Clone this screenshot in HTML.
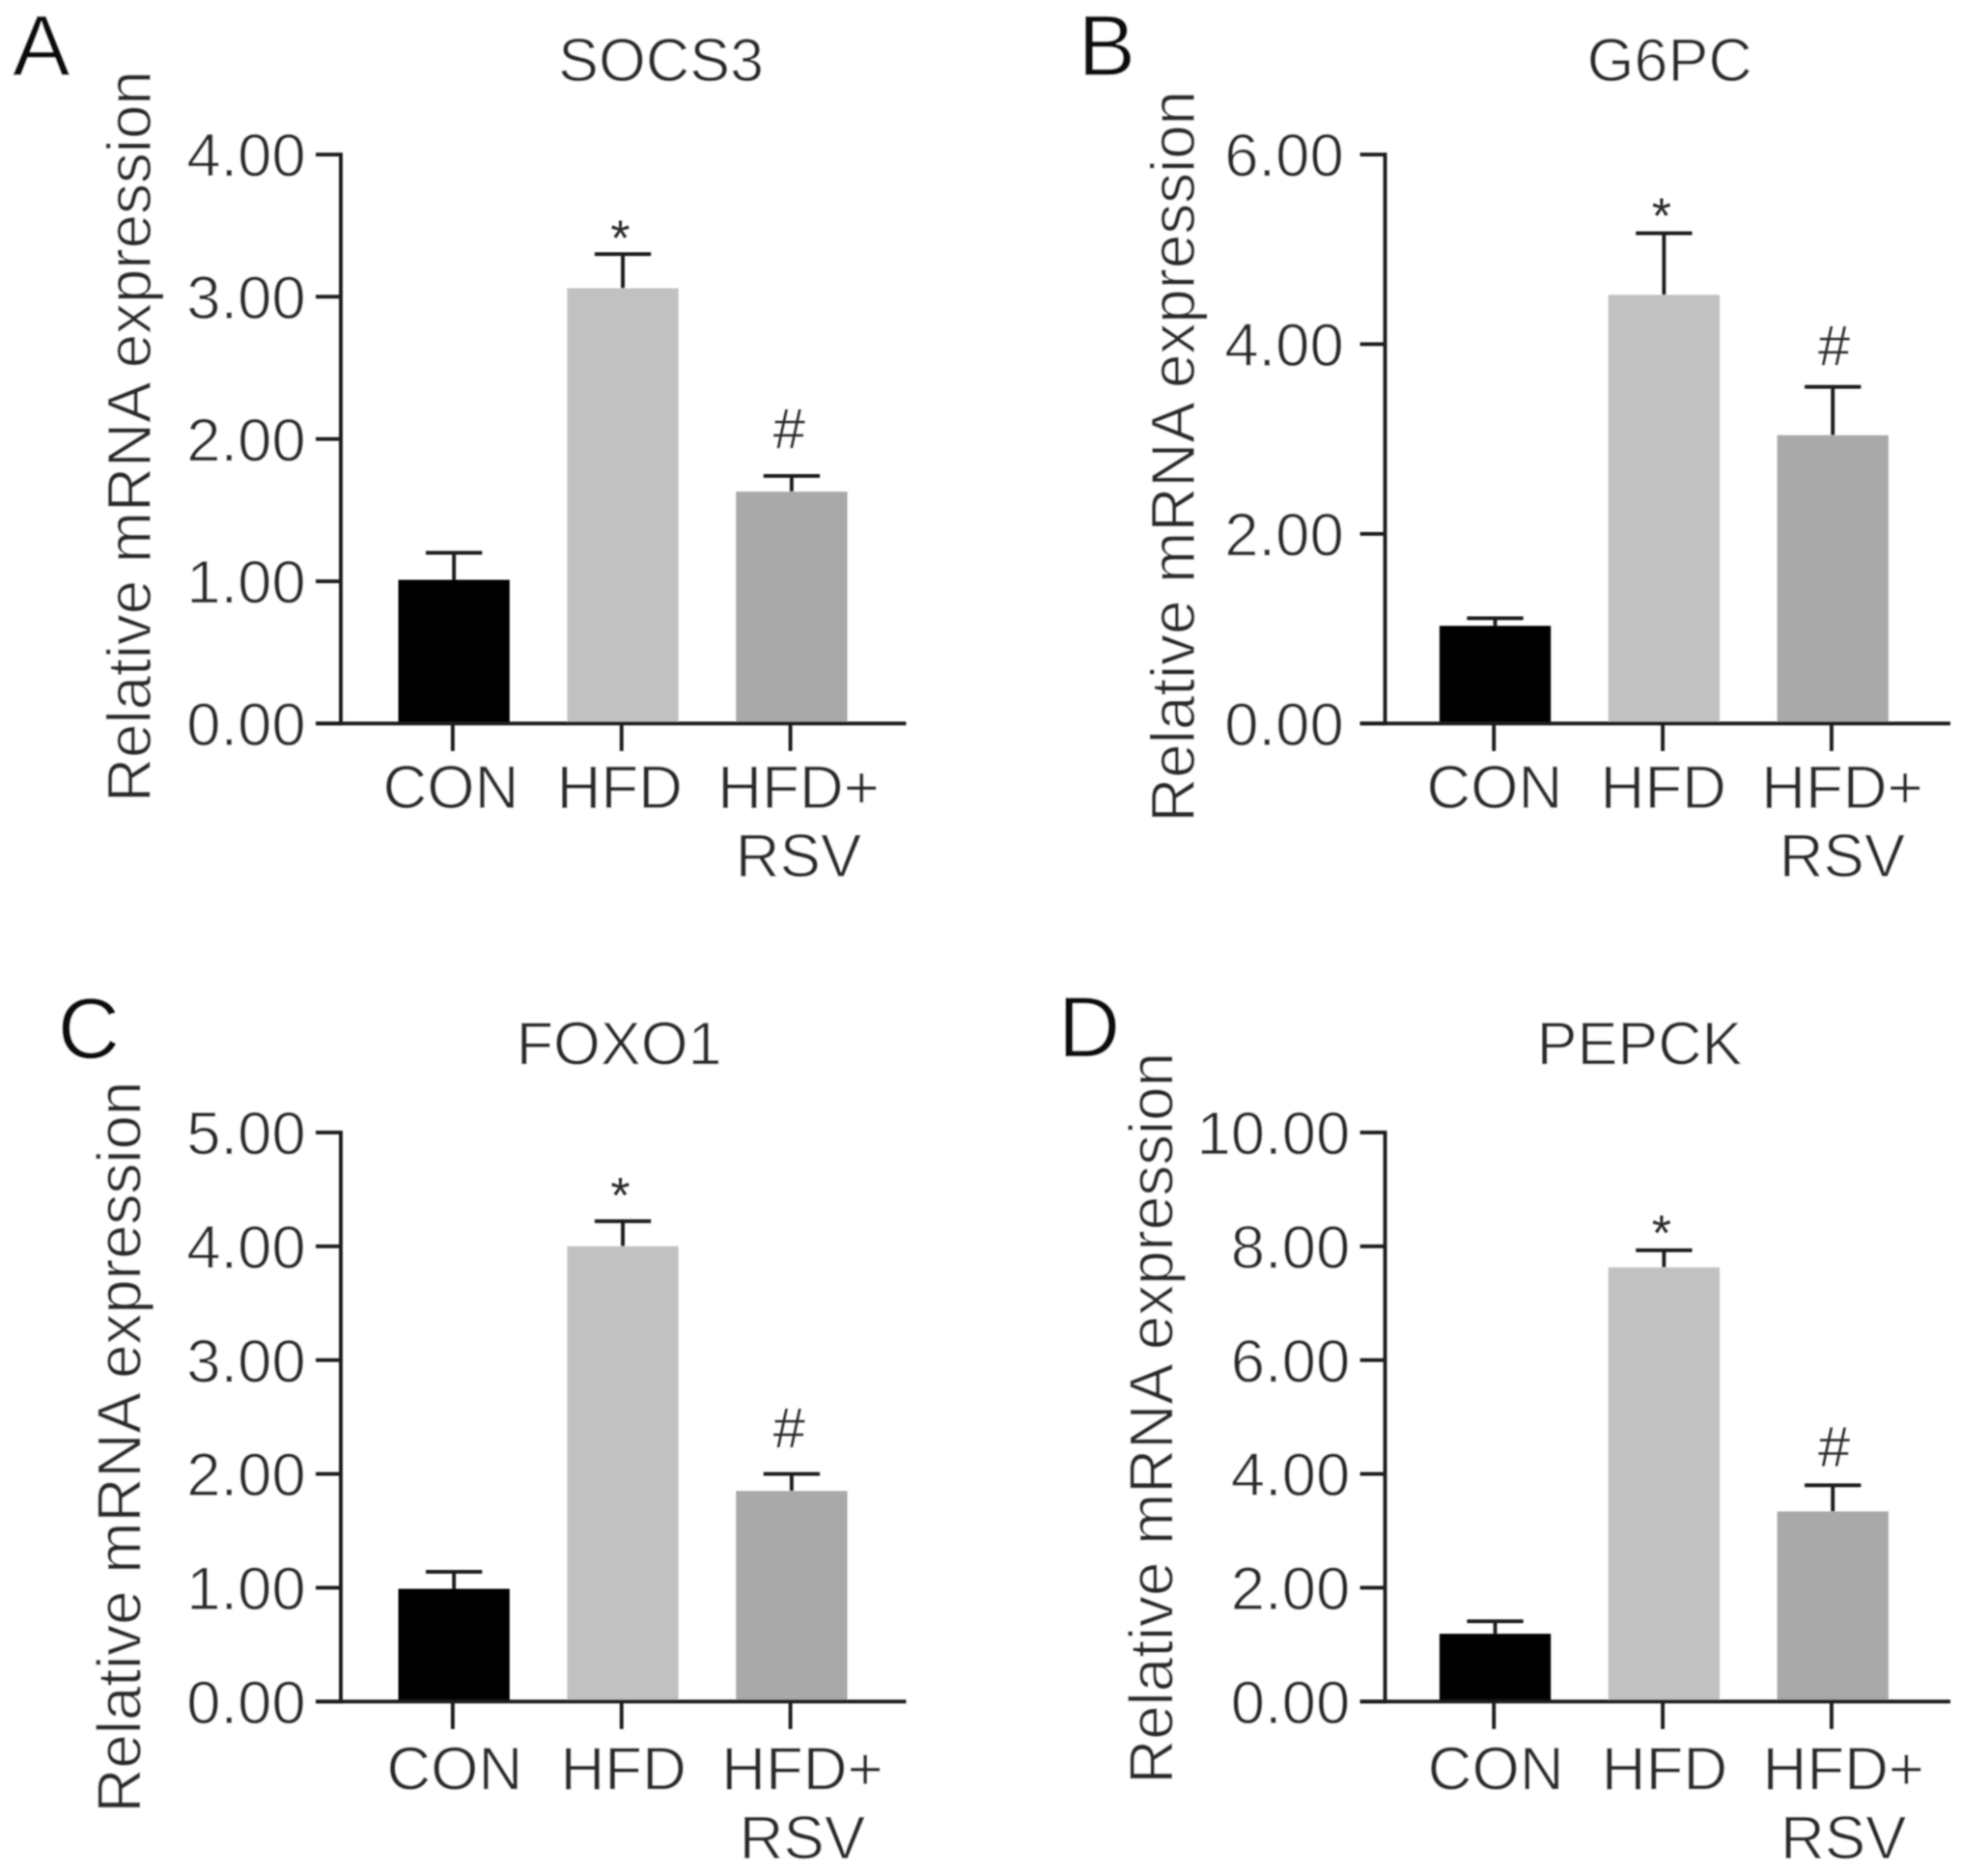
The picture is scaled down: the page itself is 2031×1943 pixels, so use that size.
<!DOCTYPE html>
<html lang="en">
<head>
<meta charset="utf-8">
<title>Relative mRNA expression panels</title>
<style>
html,body{margin:0;padding:0;background:#fff;}
svg{display:block;}
text{font-family:"Liberation Sans",sans-serif;fill:#2b2b2b;stroke:#fff;stroke-width:0.55px;}
</style>
</head>
<body>
<svg id="figure" width="2031" height="1943" viewBox="0 0 1568 1500" xmlns="http://www.w3.org/2000/svg">
<rect width="1568" height="1500" fill="#fff"/>
<defs><filter id="soft" x="-5%" y="-5%" width="110%" height="110%"><feGaussianBlur stdDeviation="0.55"/></filter></defs>
<g id="plot" filter="url(#soft)"></g>
</svg>
<script>
// Data
const categories = [["CON"], ["HFD"], ["HFD+", "RSV"]];
const barColors = ["#000000", "#c1c1c1", "#a9a9a9"];
const annotations = ["", "*", "#"];

const socs3Values = [1.01, 3.06, 1.63];
const socs3Tops = [1.20, 3.30, 1.74];
const socs3Ticks = [0, 1, 2, 3, 4];

const g6pcValues = [1.03, 4.52, 3.04];
const g6pcTops = [1.11, 5.17, 3.55];
const g6pcTicks = [0, 2, 4, 6];

const foxo1Values = [0.99, 4.00, 1.85];
const foxo1Tops = [1.14, 4.22, 2.00];
const foxo1Ticks = [0, 1, 2, 3, 4, 5];

const pepckValues = [1.19, 7.63, 3.34];
const pepckTops = [1.41, 7.93, 3.80];
const pepckTicks = [0, 2, 4, 6, 8, 10];

const panels = [
  {key:"a", letter:"A", title:"SOCS3", values:socs3Values, tops:socs3Tops, ticks:socs3Ticks,
   axisX:272.5, barOffset:90.5, top:123.5, base:578.5, letterX:10, letterY:60, titleX:528.5, titleY:65, yTitleX:120.5, yTitleY:349, labelDx:-1.5, catY:646, tickDx:1, starGap:1, hashGap:-22, hashDx:-2},
  {key:"b", letter:"B", title:"G6PC", values:g6pcValues, tops:g6pcTops, ticks:g6pcTicks,
   axisX:1107.5, barOffset:88, top:123.5, base:578.5, letterX:862, letterY:60, titleX:1335, titleY:65, yTitleX:955, yTitleY:365, labelDx:0.5, catY:646, tickDx:-4, starGap:0, hashGap:-17, hashDx:1},
  {key:"c", letter:"C", title:"FOXO1", values:foxo1Values, tops:foxo1Tops, ticks:foxo1Ticks,
   axisX:272.5, barOffset:90.5, top:905.5, base:1360.5, letterX:46, letterY:846, titleX:495, titleY:851, yTitleX:112.5, yTitleY:1157, labelDx:1.5, catY:1431, tickDx:1, starGap:-7, hashGap:-21, hashDx:-2},
  {key:"d", letter:"D", title:"PEPCK", values:pepckValues, tops:pepckTops, ticks:pepckTicks,
   axisX:1107.5, barOffset:88, top:905.5, base:1360.5, letterX:846, letterY:845, titleX:1311, titleY:851, yTitleX:937.5, yTitleY:1134, labelDx:1.5, catY:1431, tickDx:1, starGap:0, hashGap:-15, hashDx:1}
];

const NS = "http://www.w3.org/2000/svg";
const plot = document.getElementById("plot");
const INK = "#1c1c1c";
const LW = 3;

function line(parent, x1, y1, x2, y2, w) {
  const el = document.createElementNS(NS, "line");
  el.setAttribute("x1", x1);
  el.setAttribute("y1", y1);
  el.setAttribute("x2", x2);
  el.setAttribute("y2", y2);
  el.setAttribute("stroke", INK);
  el.setAttribute("stroke-width", w);
  parent.appendChild(el);
  return el;
}

function label(parent, str, x, y, size, anchor) {
  const el = document.createElementNS(NS, "text");
  el.setAttribute("x", x);
  el.setAttribute("y", y);
  el.setAttribute("font-size", size);
  el.setAttribute("text-anchor", anchor);
  el.textContent = str;
  parent.appendChild(el);
  return el;
}

panels.forEach(function (p) {
  const maxTick = p.ticks[p.ticks.length - 1];
  const yScale = function (v) { return p.base - (v / maxTick) * (p.base - p.top); };
  const xScale = function (i) { return p.axisX + p.barOffset + i * 135; };

  const g = document.createElementNS(NS, "g");
  
  
  plot.appendChild(g);

  const letter = label(g, p.letter, p.letterX, p.letterY, 69, "start");
  
  
  letter.style.fill = "#111";

  const title = label(g, p.title, p.titleX, p.titleY, 48.5, "middle");
  
  

  const yTitle = label(g, "Relative mRNA expression", 0, 0, 49.2, "middle");
  yTitle.setAttribute("transform", "translate(" + p.yTitleX + "," + p.yTitleY + ") rotate(-90)");
  
  

  // bars and error bars
  p.values.forEach(function (v, i) {
    const cx = xScale(i);
    const topY = yScale(p.tops[i]);
    const valY = yScale(v);

    const stem = line(g, cx, topY, cx, valY, LW);
    
    

    const cap = line(g, cx - 22.5, topY, cx + 22.5, topY, LW);
    
    

    const bar = document.createElementNS(NS, "rect");
    bar.setAttribute("x", cx - 44.5);
    bar.setAttribute("y", valY);
    bar.setAttribute("width", 89);
    bar.setAttribute("height", p.base - valY);
    bar.setAttribute("fill", barColors[i]);
    
    
    g.appendChild(bar);

    const mark = annotations[i];
    if (mark === "*") {
      const star = label(g, mark, cx - 2, topY + p.starGap, 40, "middle");
      
      
      star.style.strokeWidth = "0";
    } else if (mark === "#") {
      const hash = label(g, mark, cx + p.hashDx, topY + p.hashGap, 46, "middle");
      
      
      hash.style.strokeWidth = "0.15px";
    }

    const tick = line(g, cx - 1, p.base, cx - 1, p.base + 22, LW);
    
    

    categories[i].forEach(function (row, r) {
      const cat = label(g, row, cx - 1 + p.labelDx + (i === 2 ? 8 : 0), p.catY + r * 55, 49, "middle");
      
      
    });
  });

  // axes
  const yAxis = line(g, p.axisX, p.top - LW / 2, p.axisX, p.base + LW / 2, LW);
  
  

  const xAxis = line(g, p.axisX - 20, p.base, p.axisX + 452, p.base, LW);
  
  

  p.ticks.forEach(function (t) {
    const y = yScale(t);
    const tick = line(g, p.axisX - 20, y, p.axisX, y, LW);
    
    

    const tl = label(g, t.toFixed(2), p.axisX - 29 + p.tickDx, y + 17.5, 49, "end");
    
    
  });
});
</script>
</body>
</html>
